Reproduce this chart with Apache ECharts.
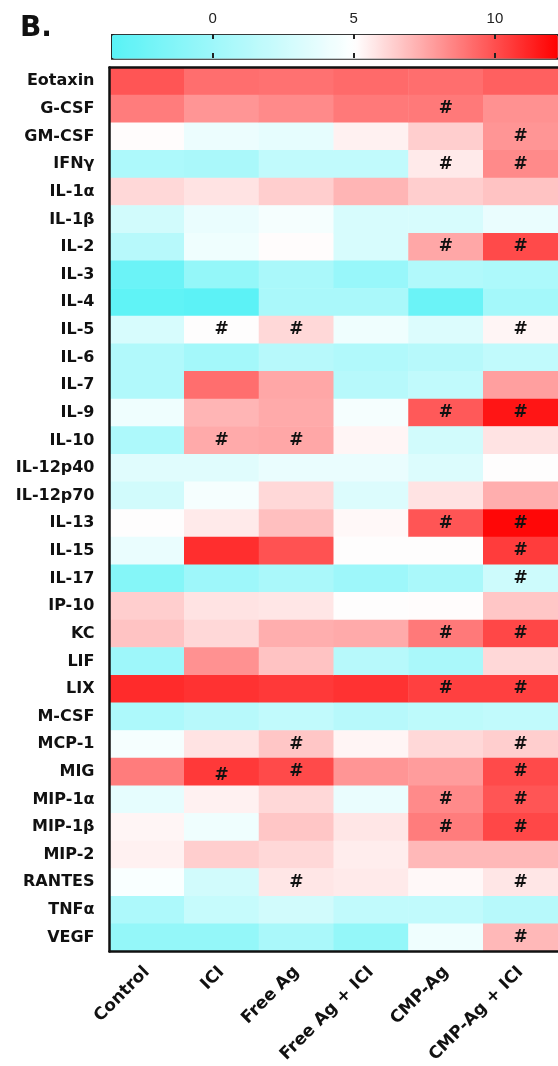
<!DOCTYPE html>
<html>
<head>
<meta charset="utf-8">
<script src="https://cdn.jsdelivr.net/npm/echarts@6/dist/echarts.min.js"></script>
<style>html,body{margin:0;padding:0;background:#fff}#c{width:558px;height:1066px}</style>
</head>
<body>
<div id="c"></div>
<script>
const groups = ['Control', 'ICI', 'Free Ag', 'Free Ag + ICI', 'CMP-Ag', 'CMP-Ag + ICI'];
const cytokines = ['Eotaxin','G-CSF','GM-CSF','IFNγ','IL-1α','IL-1β','IL-2','IL-3','IL-4','IL-5','IL-6','IL-7','IL-9','IL-10','IL-12p40','IL-12p70','IL-13','IL-15','IL-17','IP-10','KC','LIF','LIX','M-CSF','MCP-1','MIG','MIP-1α','MIP-1β','MIP-2','RANTES','TNFα','VEGF'];

const control   = [9.8,8.7,5.1,0.8,6.1,2.6,1.3,-2.6,-3.2,2.9,1.0,1.0,4.2,0.8,3.4,2.6,5.0,3.9,-1.3,6.4,6.7,0.0,11.0,0.8,4.5,8.7,3.7,5.3,5.4,4.7,0.8,-0.5];
const ici       = [9.1,8.0,4.0,0.6,5.8,3.9,4.2,-0.5,-3.4,5.0,0.3,9.1,7.1,7.4,3.4,4.5,5.6,10.9,0.0,5.8,6.1,8.1,10.8,1.3,5.8,10.6,5.4,4.2,6.4,2.6,2.1,-0.5];
const freeAg    = [9.0,8.3,3.7,1.8,6.4,4.5,5.1,0.6,0.6,6.1,1.3,7.5,7.4,7.5,3.9,6.1,6.8,9.9,0.6,5.7,7.3,6.7,10.6,1.8,6.6,10.1,6.1,6.6,6.1,5.7,2.6,0.6];
const freeAgIci = [9.2,8.8,5.4,1.8,7.1,2.9,2.9,-0.3,0.6,4.2,1.0,1.3,4.5,5.3,3.9,3.2,5.2,5.0,0.0,5.0,7.4,1.3,10.8,1.3,5.3,8.0,3.9,5.7,5.5,5.6,1.8,-0.5];
const cmpAg     = [9.1,8.8,6.4,5.6,6.4,2.9,7.5,1.0,-2.6,3.2,1.3,1.8,9.7,2.6,3.2,5.8,9.8,5.0,0.6,5.1,8.8,0.6,10.4,1.6,6.1,7.8,8.3,8.7,7.0,5.2,1.8,4.2];
const cmpAgIci  = [9.5,8.1,8.0,8.3,6.7,3.9,10.1,0.8,0.3,5.3,1.8,7.7,11.6,5.8,5.0,7.3,12.0,10.5,2.4,6.6,10.2,6.1,10.4,1.8,6.4,10.1,9.8,10.2,7.0,5.7,1.3,7.0];

const marksControl   = [];
const marksIci       = ['IL-5','IL-10','MIG'];
const marksFreeAg    = ['IL-5','IL-10','MCP-1','MIG','RANTES'];
const marksFreeAgIci = [];
const marksCmpAg     = ['G-CSF','IFNγ','IL-2','IL-9','IL-13','KC','LIX','MIP-1α','MIP-1β'];
const marksCmpAgIci  = ['GM-CSF','IFNγ','IL-2','IL-5','IL-9','IL-13','IL-15','IL-17','KC','LIX','MCP-1','MIG','MIP-1α','MIP-1β','RANTES','VEGF'];

const scaleMin = -3.6, scaleMax = 12.2;
const scaleTicks = [0, 5, 10];

const columns = [control, ici, freeAg, freeAgIci, cmpAg, cmpAgIci];
const marks = [marksControl, marksIci, marksFreeAg, marksFreeAgIci, marksCmpAg, marksCmpAgIci];

const data = [];
columns.forEach((col, ci) => col.forEach((v, ri) => {
  const item = {value: [ci, ri, v]};
  if (ci === 1 && cytokines[ri] === 'MIG') item.label = {offset: [0, 4]};
  data.push(item);
}));

// colour ramp: cyan -> white (at 5) -> red
const lowC = [88, 242, 246], midC = [255, 255, 255], highC = [255, 0, 0], midV = 5;
function rampColor(v) {
  let a, b, t;
  if (v <= midV) { a = lowC; b = midC; t = (v - scaleMin) / (midV - scaleMin); }
  else { a = midC; b = highC; t = (v - midV) / (scaleMax - midV); }
  const c = a.map((x, i) => Math.round(x + (b[i] - x) * t));
  return 'rgb(' + c.join(',') + ')';
}
const rampColors = [];
const N = 80;
for (let i = 0; i <= N; i++) rampColors.push(rampColor(scaleMin + (scaleMax - scaleMin) * i / N));

const labelFont = 'DejaVu Sans';

const chart = echarts.init(document.getElementById('c'), null, {renderer: 'canvas'});
chart.setOption({
  animation: false,
  backgroundColor: '#fff',
  graphic: [{
    type: 'text', left: 20, top: 15,
    style: {text: 'B.', font: 'bold 28px "DejaVu Sans"', fill: '#111'}
  }],
  grid: [
    {left: 109.5, top: 67.5, width: 451, height: 886.5},
    {left: 111, top: 34, width: 446, height: 24}
  ],
  visualMap: {
    type: 'continuous', seriesIndex: 0, min: scaleMin, max: scaleMax, z: 1,
    orient: 'horizontal', left: 111, top: 34, itemWidth: 24, itemHeight: 446,
    padding: 0, calculable: false, hoverLink: false, text: null,
    borderColor: '#222', borderWidth: 1.7,
    inRange: {color: rampColors}
  },
  xAxis: [
    {
      gridIndex: 0, type: 'category', data: groups, position: 'bottom', z: 5,
      axisLine: {onZero: false, lineStyle: {color: '#111', width: 2.5}},
      axisTick: {alignWithLabel: true, length: 9, lineStyle: {color: '#111', width: 2.5}},
      axisLabel: {rotate: 45, margin: 18, interval: 0, fontFamily: labelFont, fontWeight: 'bold', fontSize: 17, color: '#111'},
      splitLine: {show: false}
    },
    {
      gridIndex: 1, type: 'value', min: scaleMin, max: scaleMax, position: 'top', z: 10,
      axisLine: {show: false, onZero: false}, splitLine: {show: false},
      axisTick: {inside: true, length: 5, customValues: scaleTicks, lineStyle: {color: '#222', width: 2}},
      axisLabel: {customValues: scaleTicks, margin: 8, fontFamily: 'Liberation Sans', fontSize: 15, color: '#222'}
    },
    {
      gridIndex: 1, type: 'value', min: scaleMin, max: scaleMax, position: 'bottom', z: 10,
      axisLine: {show: false, onZero: false}, splitLine: {show: false},
      axisTick: {inside: true, length: 5, customValues: scaleTicks, lineStyle: {color: '#222', width: 2}},
      axisLabel: {show: false}
    },
    {
      gridIndex: 0, type: 'category', data: groups, position: 'top', z: 5,
      axisLine: {onZero: false, lineStyle: {color: '#111', width: 2.5}},
      axisTick: {show: false}, axisLabel: {show: false}, splitLine: {show: false}
    }
  ],
  yAxis: [
    {
      gridIndex: 0, type: 'category', data: cytokines, inverse: true, z: 5,
      axisLine: {onZero: false, lineStyle: {color: '#111', width: 2.5}},
      axisTick: {alignWithLabel: true, length: 10, lineStyle: {color: '#111', width: 2}},
      axisLabel: {margin: 15, interval: 0, fontFamily: labelFont, fontWeight: 'bold', fontSize: 16, color: '#111'},
      splitLine: {show: false}
    },
    {gridIndex: 1, type: 'value', show: false, min: 0, max: 1}
  ],
  series: [{
    type: 'heatmap', xAxisIndex: 0, yAxisIndex: 0, data: data,
    itemStyle: {borderWidth: 0},
    label: {
      show: true,
      formatter: p => marks[p.value[0]].indexOf(cytokines[p.value[1]]) >= 0 ? '#' : '',
      fontFamily: 'DejaVu Sans', fontWeight: 'bold', fontSize: 17, color: '#111'
    },
    emphasis: {disabled: true}
  }]
});
</script>
</body>
</html>
